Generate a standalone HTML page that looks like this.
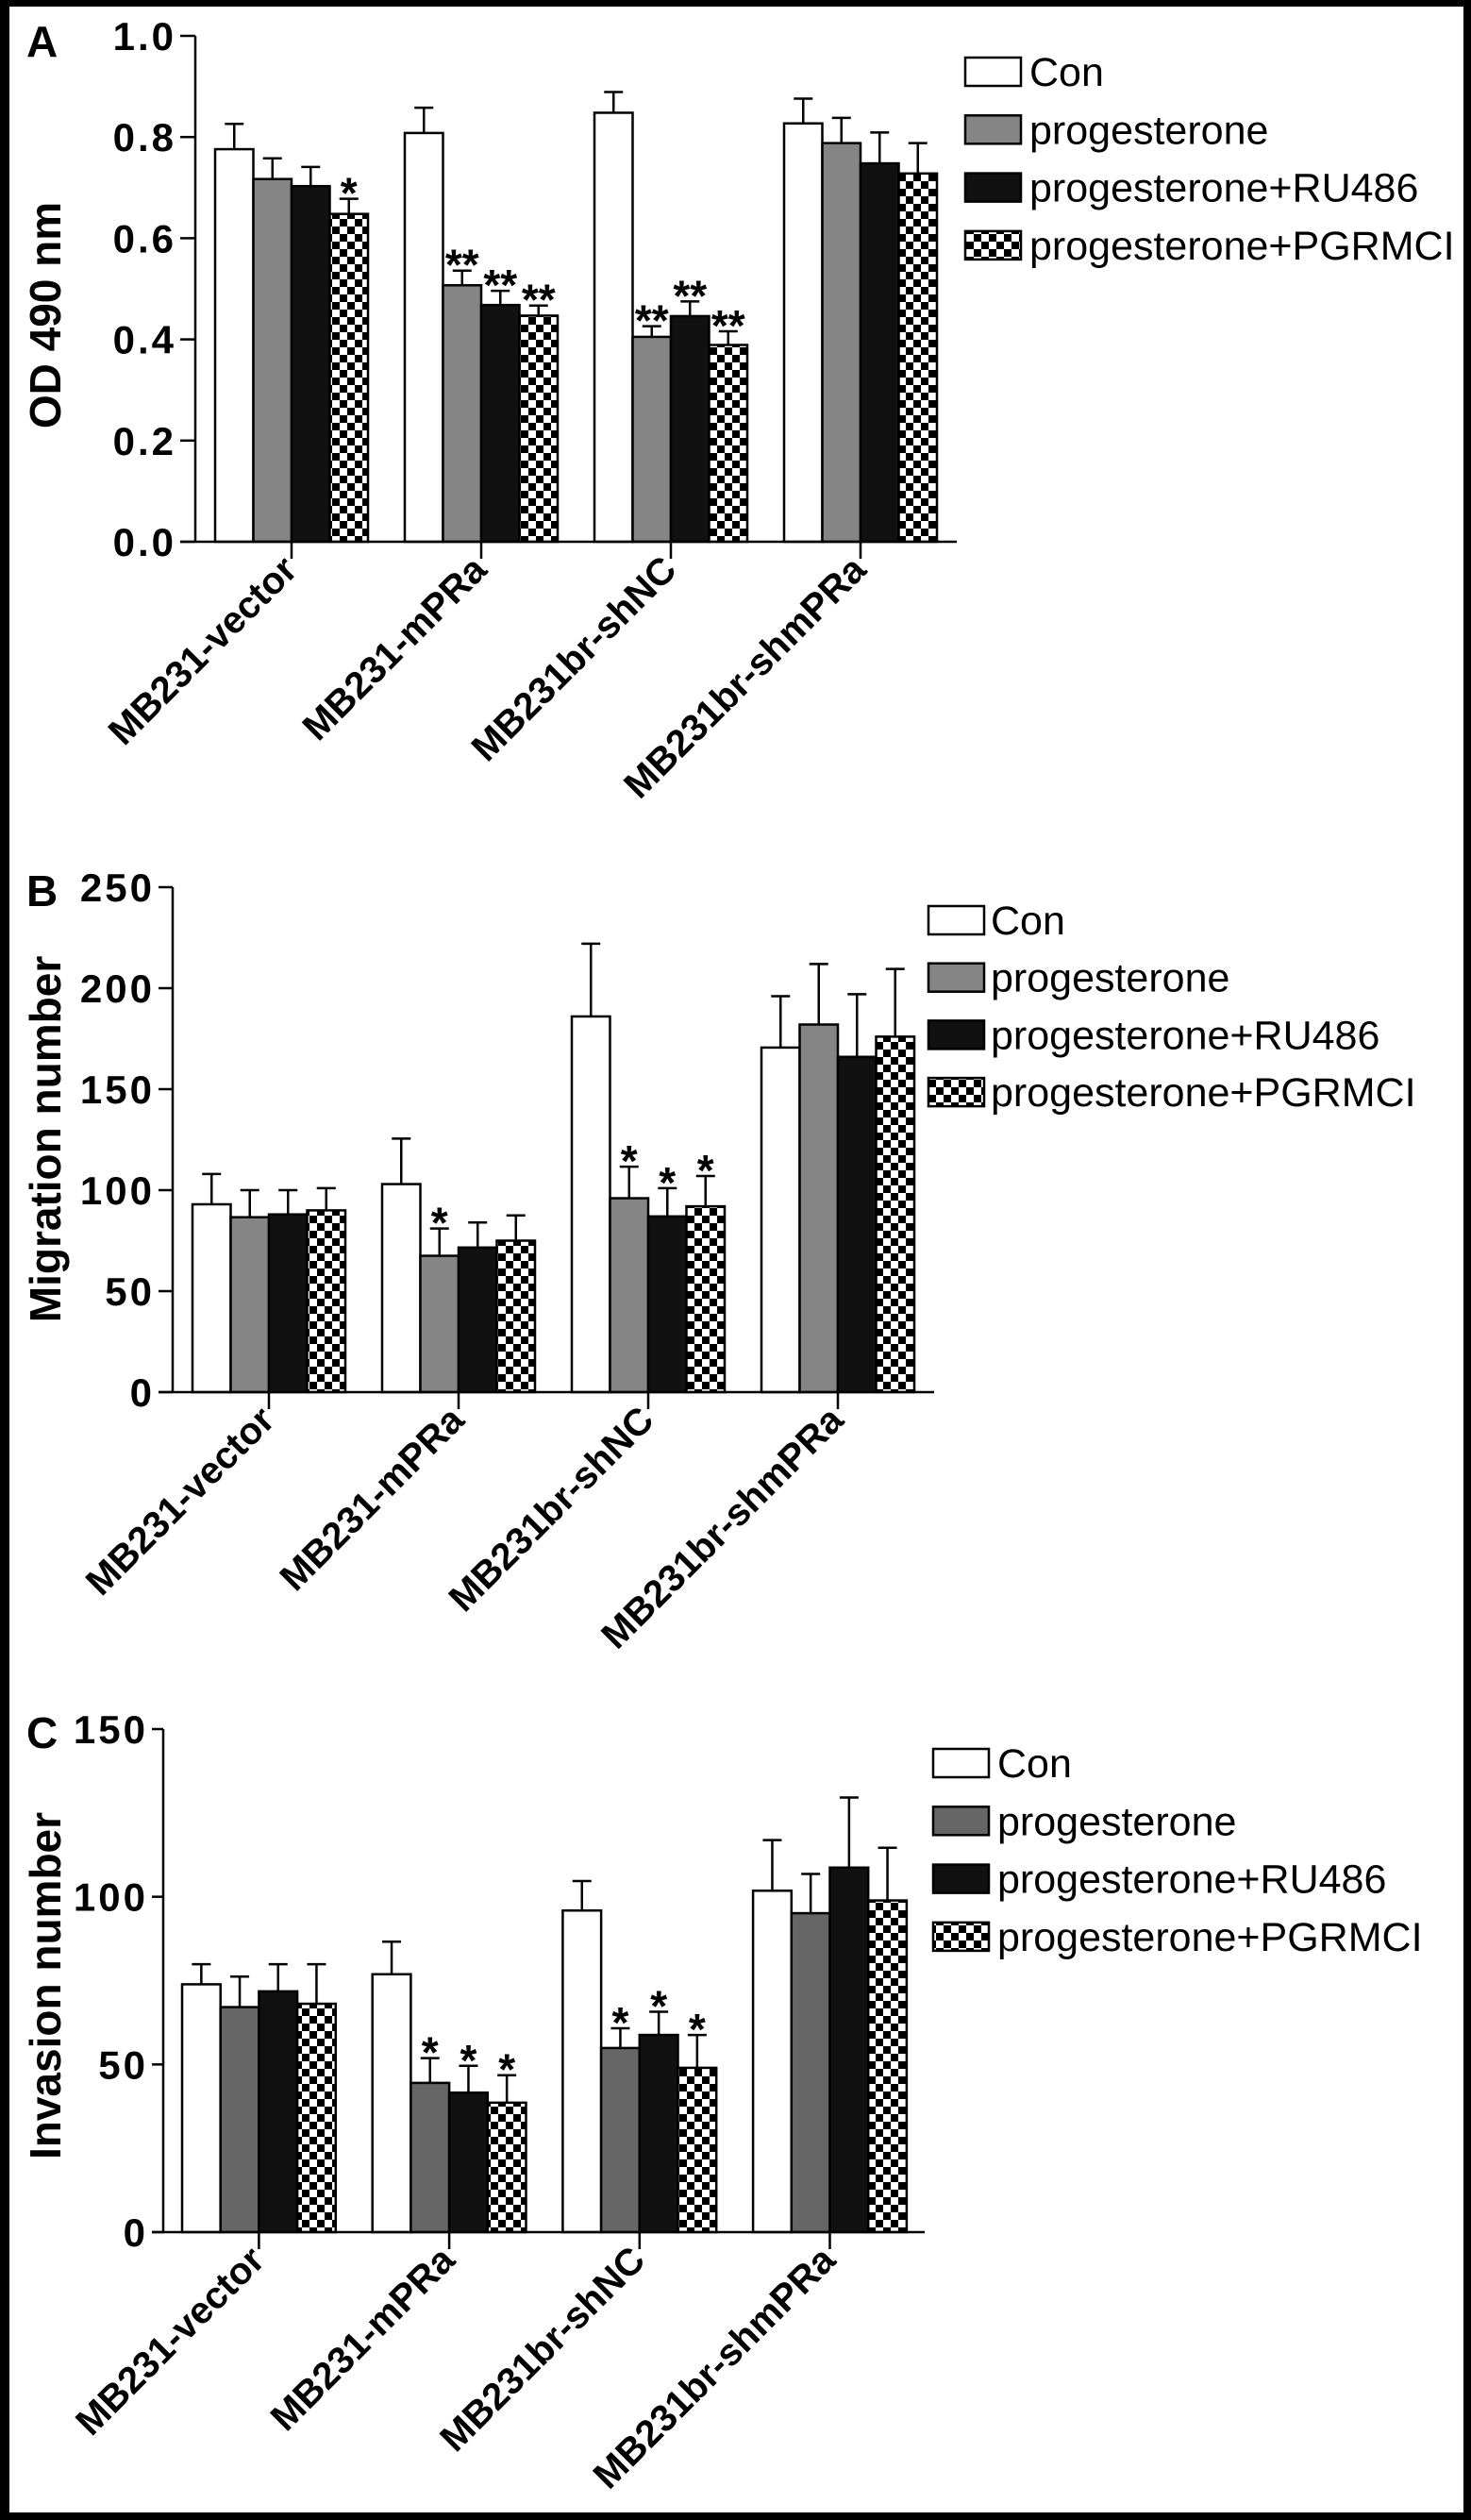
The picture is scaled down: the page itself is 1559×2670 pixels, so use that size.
<!DOCTYPE html>
<html><head><meta charset="utf-8"><style>
html,body{margin:0;padding:0;background:#000;}
svg{display:block;}
text{font-family:"Liberation Sans",Arial,sans-serif;}
</style></head><body>
<svg id="fig" width="1559" height="2670" viewBox="0 0 1559 2670" xmlns="http://www.w3.org/2000/svg">
<defs>
<pattern id="chk" patternUnits="userSpaceOnUse" width="16" height="16">
<rect width="16" height="16" fill="#fff"/><rect width="8" height="8" fill="#000"/><rect x="8" y="8" width="8" height="8" fill="#000"/>
</pattern>
</defs>
<rect x="10" y="7" width="1541" height="2655" fill="#fff"/>
<g id="root"></g>
</svg>
<script>
const categories = ["MB231-vector","MB231-mPRa","MB231br-shNC","MB231br-shmPRa"];
const seriesNames = ["Con","progesterone","progesterone+RU486","progesterone+PGRMCI"];
// Panel A: OD 490 nm
const aCon = [0.776,0.808,0.848,0.827];
const aConErr = [0.826,0.858,0.889,0.876];
const aProg = [0.717,0.507,0.405,0.788];
const aProgErr = [0.758,0.536,0.426,0.838];
const aRu = [0.703,0.468,0.446,0.748];
const aRuErr = [0.741,0.496,0.475,0.809];
const aPg = [0.648,0.447,0.389,0.728];
const aPgErr = [0.678,0.467,0.416,0.788];
const aStars = [["","","","*"],["","**","**","**"],["","**","**","**"],["","","",""]];
const aTicks = ["0.0","0.2","0.4","0.6","0.8","1.0"];
// Panel B: Migration number
const bCon = [93,103,186,170.6];
const bConErr = [108,125.5,222,196];
const bProg = [86.6,67.5,96,182];
const bProgErr = [100,81,111.6,212];
const bRu = [88,71.6,87,166];
const bRuErr = [100,84,101,197];
const bPg = [90,75,92,176];
const bPgErr = [101,87.5,107,209.5];
const bStars = [["","","",""],["","*","",""],["","*","*","*"],["","","",""]];
const bTicks = ["0","50","100","150","200","250"];
// Panel C: Invasion number
const cCon = [73.9,76.9,95.9,101.8];
const cConErr = [79.9,86.6,104.7,116.9];
const cProg = [67.1,44.5,54.9,95.1];
const cProgErr = [76.2,51.9,60.8,106.8];
const cRu = [71.8,41.6,58.8,108.7];
const cRuErr = [79.9,49.6,65.7,129.6];
const cPg = [68.1,38.6,49,98.9];
const cPgErr = [79.9,46.8,58.8,114.6];
const cStars = [["","","",""],["","*","*","*"],["","*","*","*"],["","","",""]];
const cTicks = ["0","50","100","150"];

const NS="http://www.w3.org/2000/svg";
const root=document.getElementById('root');
function mk(tag,attrs,parent){const e=document.createElementNS(NS,tag);for(const k in attrs)e.setAttribute(k,attrs[k]);(parent||root).appendChild(e);return e;}

const panels=[
 {id:'a',letter:'A',letterY:60,title:'OD 490 nm',titleY:334,axisX:207,y0:574,yTop:38,max:1.0,ticks:aTicks,
  vals:[aCon,aProg,aRu,aPg],errs:[aConErr,aProgErr,aRuErr,aPgErr],stars:aStars,x0:228,gap:201,bw:40.5,axisEnd:1014,tickLeft:191,
  legX:1023,legY:61,legText:1091,legRow:61.3,gray:'#858585'},
 {id:'b',letter:'B',letterY:960,title:'Migration number',titleY:1207,axisX:183,y0:1475,yTop:940,max:250,ticks:bTicks,
  vals:[bCon,bProg,bRu,bPg],errs:[bConErr,bProgErr,bRuErr,bPgErr],stars:bStars,x0:204,gap:201,bw:40.5,axisEnd:990,tickLeft:168,
  legX:984,legY:960,legText:1050,legRow:60.7,gray:'#858585'},
 {id:'c',letter:'C',letterY:1852,title:'Invasion number',titleY:2104,axisX:173,y0:2365,yTop:1832,max:150,ticks:cTicks,
  vals:[cCon,cProg,cRu,cPg],errs:[cConErr,cProgErr,cRuErr,cPgErr],stars:cStars,x0:193,gap:201.7,bw:40.7,axisEnd:980,tickLeft:161,
  legX:989,legY:1853,legText:1057,legRow:61.3,gray:'#666666'}
];

panels.forEach(p=>{
 const g=mk('g',{});
 
 
 const y=v=>p.y0-(v/p.max)*(p.y0-p.yTop);
 const fills=['#fff',p.gray,'#111','url(#chk)'];
 const L=mk('text',{x:28,y:p.letterY,'font-size':46,'font-weight':'bold',fill:'#000'},g);
 L.textContent=p.letter;
 
 
 const T=mk('text',{x:0,y:0,'font-size':46,'font-weight':'bold','text-anchor':'middle',transform:`translate(64,${p.titleY}) rotate(-90)`},g);
 T.textContent=p.title;
 
 
 for(let c=0;c<4;c++){
  const gx=p.x0+c*p.gap;
  for(let s=0;s<4;s++){
   const bx=gx+s*p.bw, v=p.vals[s][c], e=p.errs[s][c], cx=bx+p.bw/2;
   const el=mk('line',{x1:cx,x2:cx,y1:y(v),y2:y(e),stroke:'#000','stroke-width':2.5},g);
   
   
   const cap=mk('line',{x1:cx-10,x2:cx+10,y1:y(e),y2:y(e),stroke:'#000','stroke-width':2.5},g);
   
   
   const r=mk('rect',{x:bx,y:y(v),width:p.bw,height:p.y0-y(v),fill:fills[s],stroke:'#000','stroke-width':2.5},g);
   
   
   const st=p.stars[c][s];
   if(st){
    const t=mk('text',{x:cx,y:y(e)+10,'font-size':46,'font-weight':'bold','text-anchor':'middle'},g);
    t.textContent=st;
    
    
   }
  }
  const tx=gx+2*p.bw;
  const tk=mk('line',{x1:tx,x2:tx,y1:p.y0,y2:p.y0+18,stroke:'#000','stroke-width':2.5},g);
  
  
  const xl=mk('text',{x:0,y:0,'font-size':40,'font-weight':'bold','text-anchor':'end',transform:`translate(${tx+8},${p.y0+32}) rotate(-45)`},g);
  xl.textContent=categories[c];
  
  
 }
 const ya=mk('line',{x1:p.axisX,x2:p.axisX,y1:p.yTop,y2:p.y0,stroke:'#000','stroke-width':2.5},g);
 
 
 const xa=mk('line',{x1:p.tickLeft,x2:p.axisEnd,y1:p.y0,y2:p.y0,stroke:'#000','stroke-width':2.5},g);
 
 
 p.ticks.forEach(lbl=>{
  const v=parseFloat(lbl), ty=y(v);
  const tl=mk('line',{x1:p.tickLeft,x2:p.axisX,y1:ty,y2:ty,stroke:'#000','stroke-width':2.5},g);
  
  
  const tt=mk('text',{x:p.tickLeft-4,y:ty+15,'font-size':42,'font-weight':'bold','text-anchor':'end','letter-spacing':3},g);
  tt.textContent=lbl;
  
  
 });
 seriesNames.forEach((n,i)=>{
  const ly=p.legY+i*p.legRow;
  const lr=mk('rect',{x:p.legX,y:ly,width:59,height:30,fill:fills[i],stroke:'#000','stroke-width':2.5},g);
  
  
  const lt=mk('text',{x:p.legText,y:ly+30,'font-size':43},g);
  lt.textContent=n;
  
  
 });
});
</script>
</body></html>
